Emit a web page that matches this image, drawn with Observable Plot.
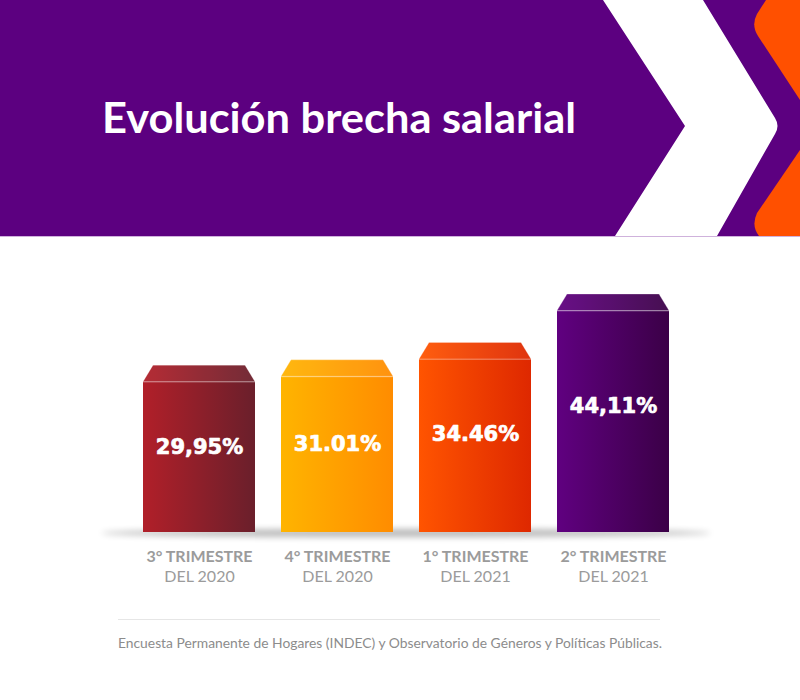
<!DOCTYPE html>
<html><head><meta charset="utf-8">
<script src="https://cdn.jsdelivr.net/npm/d3@7"></script>
<script src="https://cdn.jsdelivr.net/npm/@observablehq/plot@0.6"></script>
<style>
body{margin:0;background:#fff;}
#wrap{position:relative;width:800px;height:700px;overflow:hidden;background:#fff;}
#header{position:absolute;left:0;top:0;}
#chart{position:absolute;left:0;top:237px;}
#foot{position:absolute;left:0;top:600px;}
</style>
</head><body>
<div id="wrap">
<svg id="header" width="800" height="237" xmlns="http://www.w3.org/2000/svg">
  <rect x="0" y="0" width="800" height="236" fill="#5c0080"/>
  <rect x="0" y="236" width="800" height="1" fill="#cfb2dc"/>
  <path d="M603,0 L703,0 L775,118 Q780,126 775,134 L717,236 L615,236 L685,126 Z" fill="#ffffff"/>
  <path d="M766,0 L800,0 L800,100 L758,36 Q751,25 757,14 Z" fill="#ff5000"/>
  <path d="M800,150 L800,236 L759,236 Q751,226 757,213 Z" fill="#ff5000"/>
  <text x="102" y="133" font-family="Lato, 'Open Sans', sans-serif" font-weight="700" font-size="42" fill="#ffffff" textLength="474" lengthAdjust="spacingAndGlyphs">Evolución brecha salarial</text>
</svg>
<div id="chart"></div>
<svg id="foot" width="800" height="100" xmlns="http://www.w3.org/2000/svg">
  <rect x="118" y="19" width="542" height="1" fill="#e6e6e6"/>
  <text id="captionText" x="118" y="48" font-family="Lato, 'Open Sans', sans-serif" font-size="14" fill="#8c8c8c" textLength="544" lengthAdjust="spacingAndGlyphs"></text>
</svg>
</div>
<script>
// ---- data ----
const quarterLabels = ["3° TRIMESTRE", "4° TRIMESTRE", "1° TRIMESTRE", "2° TRIMESTRE"];
const yearLabels = ["DEL 2020", "DEL 2020", "DEL 2021", "DEL 2021"];
const gapValues = [29.95, 31.01, 34.46, 44.11];
const valueLabels = ["29,95%", "31.01%", "34.46%", "44,11%"];
const leftColors = ["#b11f29", "#ffb400", "#ff5400", "#600080"];
const rightColors = ["#6a1f2b", "#ff8c00", "#de2800", "#3b0047"];
const captionText = "Encuesta Permanente de Hogares (INDEC) y Observatorio de Géneros y Políticas Públicas.";

document.getElementById("captionText").textContent = captionText;

const data = quarterLabels.map((q, i) => ({
  key: i, q, yr: yearLabels[i], value: gapValues[i], label: valueLabels[i], grad: `url(#grad${i})`
}));

const chart = Plot.plot({
  width: 800,
  height: 360,
  marginTop: 44,
  marginBottom: 65,
  marginLeft: 129,
  marginRight: 118,
  x: {domain: data.map(d => d.key), paddingInner: 0.19, paddingOuter: 0.095, axis: null},
  y: {domain: [0, 50], axis: null},
  marks: [
    ...data.map(d => Plot.barY([d], {x: "key", y: "value", fill: d.grad})),
    Plot.text(data, {x: "key", y: d => d.value * 0.57, text: "label", fill: "#ffffff",
      stroke: "#ffffff", strokeWidth: 0.7,
      fontSize: 21, fontWeight: 700, fontFamily: "DejaVu Sans, sans-serif", letterSpacing: "0.8"}),
    Plot.text(data, {x: "key", frameAnchor: "bottom", lineAnchor: "middle", dy: 33.1,
      text: d => d.q + "\n" + d.yr, lineHeight: 1.22, fill: "#9b9b9b",
      fontSize: 16, fontFamily: "Lato, sans-serif", letterSpacing: "-0.3"})
  ]
});
document.getElementById("chart").appendChild(chart);

// decorations derived from the plot's own scales
const sx = chart.scale("x"), sy = chart.scale("y");
const svg = d3.select(chart);

// first line of each category label bold, second regular
svg.selectAll("text").each(function() {
  const ts = d3.select(this).selectAll("tspan");
  if (ts.size() === 2) {
    ts.each(function(_, i) { d3.select(this).attr("font-weight", i === 0 ? 700 : 400); });
  }
});

const defs = svg.append("defs");
data.forEach((d, i) => {
  const g = defs.append("linearGradient").attr("id", `grad${i}`).attr("x1", 0).attr("x2", 1).attr("y1", 0).attr("y2", 0);
  g.append("stop").attr("offset", "0%").attr("stop-color", leftColors[i]);
  g.append("stop").attr("offset", "100%").attr("stop-color", rightColors[i]);
});
const f = defs.append("filter").attr("id", "blur").attr("x", "-20%").attr("y", "-300%").attr("width", "140%").attr("height", "700%");
f.append("feGaussianBlur").attr("stdDeviation", 3);

const y0 = sy.apply(0);
const shadow = svg.insert("g", "g");
shadow.append("ellipse").attr("cx", (sx.apply(0) + sx.apply(3) + sx.bandwidth) / 2).attr("cy", y0 + 1)
  .attr("rx", 305).attr("ry", 4).attr("fill", "#000").attr("opacity", 0.28).attr("filter", "url(#blur)");

const tops = svg.append("g");
data.forEach((d, i) => {
  const x0 = sx.apply(d.key), x1 = x0 + sx.bandwidth, yt = sy.apply(d.value);
  const pts = [[x0, yt], [x0 + 10, yt - 16.5], [x1 - 10, yt - 16.5], [x1, yt]];
  tops.append("polygon").attr("points", pts.map(p => p.join(",")).join(" ")).attr("fill", d.grad);
  tops.append("polygon").attr("points", pts.map(p => p.join(",")).join(" "))
    .attr("fill", "#ffffff").attr("fill-opacity", 0.06)
    .attr("stroke", "#ffffff").attr("stroke-opacity", 0.25).attr("stroke-width", 1);
  tops.append("line").attr("x1", x0).attr("x2", x1).attr("y1", yt + 0.5).attr("y2", yt + 0.5)
    .attr("stroke", "#ffffff").attr("stroke-opacity", 0.2);
});
</script>
</body></html>
